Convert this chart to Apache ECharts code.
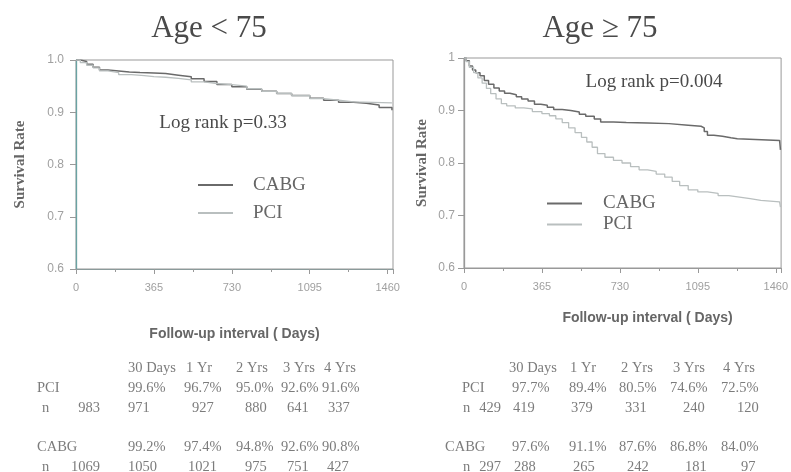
<!DOCTYPE html>
<html>
<head>
<meta charset="utf-8">
<script src="https://cdn.jsdelivr.net/npm/echarts@6/dist/echarts.min.js"></script>
<style>html,body{margin:0;padding:0;background:#fff}#c{width:791px;height:472px}</style>
</head>
<body>
<div id="c"></div>
<script>
// ---- data ----
const xTicks = [0, 365, 730, 1095, 1460];
const yTicks = [0.6, 0.7, 0.8, 0.9, 1.0];
const panelTitles = ['Age < 75', 'Age \u2265 75'];
const logRankTexts = ['Log rank p=0.33', 'Log rank p=0.004'];
const seriesNames = ['CABG', 'PCI'];

// Age < 75 (left)
const leftCABG = [[0,1.0],[20,0.997],[50,0.992],[80,0.986],[110,0.981],[150,0.979],[200,0.977],[250,0.976],[300,0.975],[365,0.974],[420,0.971],[480,0.968],[540,0.964],[600,0.959],[660,0.953],[730,0.949],[800,0.944],[870,0.940],[940,0.936],[1010,0.932],[1095,0.927],[1160,0.923],[1230,0.919],[1300,0.917],[1360,0.914],[1420,0.909],[1480,0.904]];
const leftPCI = [[0,1.0],[20,0.995],[50,0.990],[80,0.985],[110,0.979],[150,0.976],[200,0.972],[260,0.970],[320,0.968],[365,0.967],[420,0.965],[480,0.962],[540,0.958],[600,0.955],[660,0.953],[730,0.950],[800,0.945],[870,0.940],[940,0.936],[1010,0.932],[1095,0.926],[1160,0.923],[1230,0.920],[1300,0.918],[1480,0.918]];

// Age >= 75 (right)
const rightCABG = [[0,1.0],[10,0.995],[25,0.985],[40,0.977],[55,0.972],[75,0.966],[95,0.957],[115,0.950],[140,0.943],[165,0.937],[190,0.933],[215,0.930],[245,0.926],[270,0.922],[300,0.918],[330,0.912],[360,0.910],[390,0.906],[420,0.902],[460,0.900],[500,0.897],[540,0.893],[570,0.889],[610,0.884],[640,0.878],[700,0.877],[760,0.876],[860,0.875],[960,0.872],[1050,0.870],[1110,0.867],[1125,0.860],[1140,0.853],[1170,0.851],[1210,0.848],[1250,0.846],[1280,0.843],[1478,0.843],[1482,0.825]];
const rightPCI = [[0,1.0],[10,0.993],[25,0.982],[45,0.972],[65,0.962],[85,0.952],[105,0.942],[125,0.932],[150,0.922],[175,0.913],[200,0.909],[240,0.905],[280,0.903],[320,0.898],[365,0.894],[400,0.890],[430,0.884],[460,0.877],[490,0.867],[520,0.858],[550,0.849],[575,0.840],[600,0.830],[625,0.818],[660,0.811],[700,0.805],[740,0.800],[780,0.793],[820,0.787],[860,0.784],[900,0.779],[940,0.773],[975,0.765],[1010,0.757],[1050,0.749],[1095,0.745],[1140,0.742],[1190,0.738],[1240,0.735],[1290,0.732],[1340,0.729],[1390,0.726],[1478,0.724],[1482,0.716]];

// tables below the panels
const colHeaders = ['30 Days', '1 Yr', '2 Yrs', '3 Yrs', '4 Yrs'];
const leftPciPct = ['99.6%', '96.7%', '95.0%', '92.6%', '91.6%'];
const leftPciN0 = '983';
const leftPciN = ['971', '927', '880', '641', '337'];
const leftCabgPct = ['99.2%', '97.4%', '94.8%', '92.6%', '90.8%'];
const leftCabgN0 = '1069';
const leftCabgN = ['1050', '1021', '975', '751', '427'];
const rightPciPct = ['97.7%', '89.4%', '80.5%', '74.6%', '72.5%'];
const rightPciN0 = '429';
const rightPciN = ['419', '379', '331', '240', '120'];
const rightCabgPct = ['97.6%', '91.1%', '87.6%', '86.8%', '84.0%'];
const rightCabgN0 = '297';
const rightCabgN = ['288', '265', '242', '181', '97'];

// ---- layout / style ----
const SERIF = '"Liberation Serif","DejaVu Serif",serif';
const SANS = '"Liberation Sans",Arial,sans-serif';
const TXT = '#7c7c7c';
const CABG_COLOR = '#6a6a6a';
const PCI_COLOR = '#b9bfbf';

const chart = echarts.init(document.getElementById('c'), null, {renderer: 'canvas'});

function xAxisDef(gridIndex, nameGap, namePadLeft, lineColor) {
  return {
    type: 'value', gridIndex: gridIndex, min: 0, max: 1485, interval: 365,
    name: 'Follow-up interval ( Days)', nameLocation: 'middle', nameGap: nameGap,
    nameTextStyle: {fontFamily: SANS, fontSize: 14, fontWeight: 'bold', color: '#666', padding: [0, 0, 0, namePadLeft]},
    axisLine: {show: true, lineStyle: {color: lineColor, width: 1.2}},
    axisTick: {show: true, length: 5, lineStyle: {color: '#999'}},
    minorTick: {show: true, splitNumber: 2, length: 3, lineStyle: {color: '#999'}},
    splitLine: {show: false},
    axisLabel: {
      fontFamily: SANS, fontSize: 11, color: '#a0a0a0', margin: 13,
      showMaxLabel: false,
      formatter: function (v) { return xTicks.indexOf(v) >= 0 ? String(v) : ''; }
    }
  };
}
function yAxisDef(gridIndex, nameGap, lineColor, margin, fmt) {
  return {
    type: 'value', gridIndex: gridIndex, min: 0.6, max: 1.0, interval: 0.1,
    name: 'Survival Rate', nameLocation: 'middle', nameGap: nameGap, nameRotate: 90,
    nameTextStyle: {fontFamily: SERIF, fontSize: 15, fontWeight: 'bold', color: '#666'},
    axisLine: {show: true, lineStyle: {color: lineColor, width: 1.3}},
    axisTick: {show: true, length: 6, lineStyle: {color: '#999'}},
    splitLine: {show: false},
    axisLabel: {fontFamily: SANS, fontSize: 12, color: '#a0a0a0', margin: margin, formatter: fmt}
  };
}

function lineSeries(name, data, xi, color, width) {
  return {
    name: name, type: 'line', xAxisIndex: xi, yAxisIndex: xi, data: data,
    step: 'end', showSymbol: false, symbol: 'none', animation: false,
    lineStyle: {color: color, width: width}, itemStyle: {color: color}
  };
}

const tf = '14.5px ' + SERIF;
function txt(x, y, s, font, fill, align) {
  return {type: 'text', x: x, y: y, style: {text: s, font: font, fill: fill, textAlign: align || 'left', textVerticalAlign: 'middle'}};
}
function tableTexts(rows) {
  const out = [];
  rows.forEach(function (r) {
    r.vals.forEach(function (v, i) { out.push(txt(r.xs[i], r.y, v, tf, TXT)); });
  });
  return out;
}

const yHdr = 368, yPci = 388, yPciN = 408, yCabg = 447, yCabgN = 467;
const lHdrX = [128, 186, 236, 283, 324];
const lPctX = [128, 184, 236, 281, 322];
const lNX = [128, 192, 245, 287, 328];
const lN2X = [128, 188, 245, 287, 327];
const rHdrX = [509, 570, 621, 673, 723];
const rPctX = [512, 569, 619, 670, 721];
const rNX = [513, 571, 625, 683, 737];
const rN2X = [514, 573, 627, 685, 741];

let graphics = [];
graphics.push(txt(209, 29, panelTitles[0], '31px ' + SERIF, '#4a4a4a', 'center'));
graphics.push(txt(600, 29, panelTitles[1], '31px ' + SERIF, '#4a4a4a', 'center'));
graphics.push(txt(223, 123, logRankTexts[0], '19px ' + SERIF, '#4a4a4a', 'center'));
graphics.push(txt(654, 82, logRankTexts[1], '19px ' + SERIF, '#4a4a4a', 'center'));

graphics = graphics.concat(tableTexts([
  {vals: colHeaders, xs: lHdrX, y: yHdr},
  {vals: leftPciPct, xs: lPctX, y: yPci},
  {vals: leftPciN, xs: lNX, y: yPciN},
  {vals: leftCabgPct, xs: lPctX, y: yCabg},
  {vals: leftCabgN, xs: lN2X, y: yCabgN},
  {vals: colHeaders, xs: rHdrX, y: yHdr},
  {vals: rightPciPct, xs: rPctX, y: yPci},
  {vals: rightPciN, xs: rNX, y: yPciN},
  {vals: rightCabgPct, xs: rPctX, y: yCabg},
  {vals: rightCabgN, xs: rN2X, y: yCabgN}
]));
graphics.push(txt(37, yPci, 'PCI', tf, TXT));
graphics.push(txt(42, yPciN, 'n', tf, TXT));
graphics.push(txt(100, yPciN, leftPciN0, tf, TXT, 'right'));
graphics.push(txt(37, yCabg, 'CABG', tf, TXT));
graphics.push(txt(42, yCabgN, 'n', tf, TXT));
graphics.push(txt(100, yCabgN, leftCabgN0, tf, TXT, 'right'));
graphics.push(txt(462, yPci, 'PCI', tf, TXT));
graphics.push(txt(463, yPciN, 'n', tf, TXT));
graphics.push(txt(501, yPciN, rightPciN0, tf, TXT, 'right'));
graphics.push(txt(445, yCabg, 'CABG', tf, TXT));
graphics.push(txt(463, yCabgN, 'n', tf, TXT));
graphics.push(txt(501, yCabgN, rightCabgN0, tf, TXT, 'right'));

const option = {
  backgroundColor: '#ffffff',
  animation: false,
  grid: [
    {left: 76, top: 60, width: 317, height: 209, show: true, borderColor: '#999', borderWidth: 1, backgroundColor: 'transparent'},
    {left: 464, top: 58, width: 319, height: 210, show: true, borderColor: '#999', borderWidth: 1, backgroundColor: 'transparent'}
  ],
  xAxis: [xAxisDef(0, 58, 0, '#8a9a9a'), xAxisDef(1, 43, 50, '#999')],
  yAxis: [
    yAxisDef(0, 48, '#6aa3a3', 12, function (v) { return v.toFixed(1); }),
    yAxisDef(1, 34, '#999', 9, function (v) { return v >= 0.999 ? '1' : v.toFixed(1); })
  ],
  legend: [
    {left: 193, top: 169, orient: 'vertical', icon: 'rect', itemWidth: 35, itemHeight: 2, itemGap: 6,
     data: seriesNames, textStyle: {fontFamily: SERIF, fontSize: 19, color: '#666', lineHeight: 22, padding: [0, 0, 0, 15]}},
    {left: 542, top: 188, orient: 'vertical', icon: 'rect', itemWidth: 35, itemHeight: 2, itemGap: 0,
     data: seriesNames, textStyle: {fontFamily: SERIF, fontSize: 19, color: '#666', lineHeight: 21, padding: [0, 0, 0, 16]}}
  ],
  series: [
    lineSeries('CABG', leftCABG, 0, CABG_COLOR, 1.5),
    lineSeries('PCI', leftPCI, 0, PCI_COLOR, 1.3),
    lineSeries('CABG', rightCABG, 1, CABG_COLOR, 1.5),
    lineSeries('PCI', rightPCI, 1, PCI_COLOR, 1.3)
  ],
  graphic: graphics
};
chart.setOption(option);
</script>
</body>
</html>
